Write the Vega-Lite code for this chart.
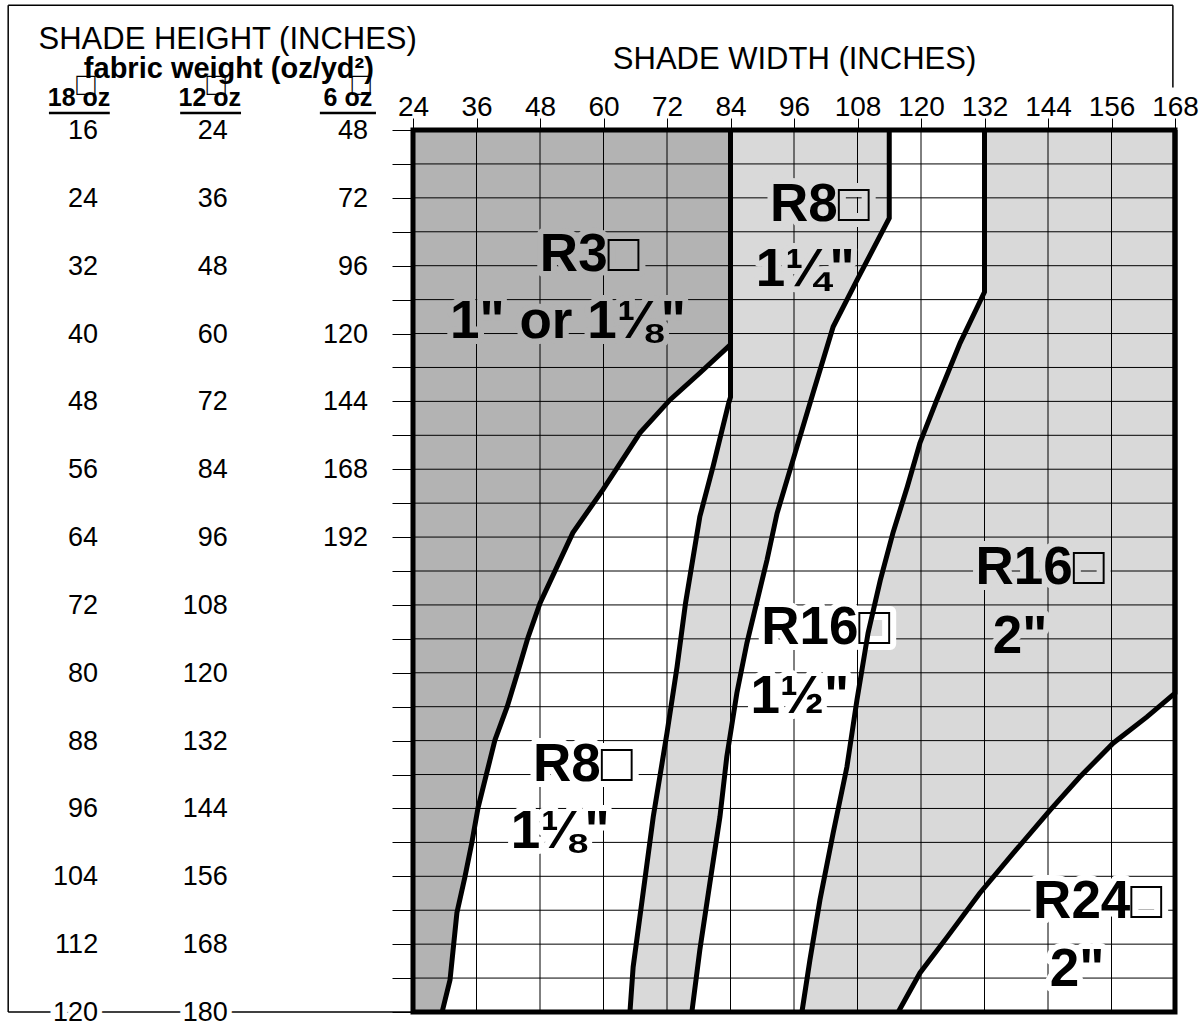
{
  "$schema": "https://vega.github.io/schema/vega-lite/v6.json",
  "width": 762,
  "height": 882,
  "autosize": {"type": "none"},
  "padding": {"left": 413, "top": 130, "right": 25, "bottom": 9},
  "background": "white",
  "config": {"view": {"stroke": null}, "font": "Liberation Sans"},
  "datasets": {
    "one": [{}],
    "edges": [
      {"edge": "A", "w": 84, "h": 16}, {"edge": "A", "w": 84, "h": 41.3}, {"edge": "A", "w": 78.2, "h": 44.65}, {"edge": "A", "w": 72.6, "h": 47.8}, {"edge": "A", "w": 66.9, "h": 51.7}, {"edge": "A", "w": 59.9, "h": 58.4}, {"edge": "A", "w": 54.2, "h": 63.5}, {"edge": "A", "w": 48.0, "h": 71.8}, {"edge": "A", "w": 45.7, "h": 75.9}, {"edge": "A", "w": 43.8, "h": 79.9}, {"edge": "A", "w": 41.8, "h": 84.0}, {"edge": "A", "w": 39.5, "h": 87.9}, {"edge": "A", "w": 36.3, "h": 95.9}, {"edge": "A", "w": 35.1, "h": 100.1}, {"edge": "A", "w": 33.8, "h": 104.1}, {"edge": "A", "w": 32.3, "h": 108.3}, {"edge": "A", "w": 31.0, "h": 116.2}, {"edge": "A", "w": 29.5, "h": 120},
      {"edge": "B", "w": 84, "h": 16}, {"edge": "B", "w": 84, "h": 47.5}, {"edge": "B", "w": 83.7, "h": 48.1}, {"edge": "B", "w": 80.7, "h": 55.7}, {"edge": "B", "w": 78.2, "h": 61.6}, {"edge": "B", "w": 75.5, "h": 71.8}, {"edge": "B", "w": 73.9, "h": 79.3}, {"edge": "B", "w": 72.0, "h": 87.1}, {"edge": "B", "w": 69.4, "h": 97.0}, {"edge": "B", "w": 67.3, "h": 106.8}, {"edge": "B", "w": 65.6, "h": 114.7}, {"edge": "B", "w": 65.0, "h": 120},
      {"edge": "C", "w": 114, "h": 16}, {"edge": "C", "w": 114, "h": 26.4}, {"edge": "C", "w": 107.9, "h": 33.7}, {"edge": "C", "w": 103.4, "h": 39.2}, {"edge": "C", "w": 99.6, "h": 47.0}, {"edge": "C", "w": 96.2, "h": 54.1}, {"edge": "C", "w": 92.8, "h": 61.2}, {"edge": "C", "w": 90.9, "h": 66.7}, {"edge": "C", "w": 87.1, "h": 76.5}, {"edge": "C", "w": 85.2, "h": 82.4}, {"edge": "C", "w": 83.3, "h": 89.9}, {"edge": "C", "w": 82.0, "h": 97.0}, {"edge": "C", "w": 80.1, "h": 104.8}, {"edge": "C", "w": 78.2, "h": 112.7}, {"edge": "C", "w": 76.7, "h": 120},
      {"edge": "D", "w": 132, "h": 16}, {"edge": "D", "w": 132, "h": 35.1}, {"edge": "D", "w": 127.4, "h": 41.1}, {"edge": "D", "w": 123.0, "h": 47.8}, {"edge": "D", "w": 119.8, "h": 52.9}, {"edge": "D", "w": 117.4, "h": 58.1}, {"edge": "D", "w": 114.7, "h": 63.5}, {"edge": "D", "w": 112.3, "h": 69.1}, {"edge": "D", "w": 110.0, "h": 75.3}, {"edge": "D", "w": 107.9, "h": 83.2}, {"edge": "D", "w": 106.0, "h": 91.1}, {"edge": "D", "w": 103.4, "h": 98.9}, {"edge": "D", "w": 100.9, "h": 106.8}, {"edge": "D", "w": 99.0, "h": 113.9}, {"edge": "D", "w": 97.5, "h": 120},
      {"edge": "E", "w": 168, "h": 16}, {"edge": "E", "w": 168, "h": 82.4}, {"edge": "E", "w": 162.7, "h": 85.2}, {"edge": "E", "w": 156.3, "h": 88.3}, {"edge": "E", "w": 150.0, "h": 92.3}, {"edge": "E", "w": 144.4, "h": 96.2}, {"edge": "E", "w": 137.4, "h": 101.3}, {"edge": "E", "w": 131.1, "h": 106.0}, {"edge": "E", "w": 124.9, "h": 111.2}, {"edge": "E", "w": 119.8, "h": 115.4}, {"edge": "E", "w": 115.7, "h": 120}
    ],
    "xgrid": [{"w": 36}, {"w": 48}, {"w": 60}, {"w": 72}, {"w": 84}, {"w": 96}, {"w": 108}, {"w": 120}, {"w": 132}, {"w": 144}, {"w": 156}],
    "ygrid": [{"h": 20}, {"h": 24}, {"h": 28}, {"h": 32}, {"h": 36}, {"h": 40}, {"h": 44}, {"h": 48}, {"h": 52}, {"h": 56}, {"h": 60}, {"h": 64}, {"h": 68}, {"h": 72}, {"h": 76}, {"h": 80}, {"h": 84}, {"h": 88}, {"h": 92}, {"h": 96}, {"h": 100}, {"h": 104}, {"h": 108}, {"h": 112}, {"h": 116}],
    "rows": [
      {"h": 16, "oz18": 16, "oz12": 24, "oz6": 48}, {"h": 24, "oz18": 24, "oz12": 36, "oz6": 72}, {"h": 32, "oz18": 32, "oz12": 48, "oz6": 96}, {"h": 40, "oz18": 40, "oz12": 60, "oz6": 120}, {"h": 48, "oz18": 48, "oz12": 72, "oz6": 144}, {"h": 56, "oz18": 56, "oz12": 84, "oz6": 168}, {"h": 64, "oz18": 64, "oz12": 96, "oz6": 192},
      {"h": 72, "oz18": 72, "oz12": 108}, {"h": 80, "oz18": 80, "oz12": 120}, {"h": 88, "oz18": 88, "oz12": 132}, {"h": 96, "oz18": 96, "oz12": 144}, {"h": 104, "oz18": 104, "oz12": 156}, {"h": 112, "oz18": 112, "oz12": 168}, {"h": 120, "oz18": 120, "oz12": 180}
    ],
    "tags": [
      {"zone": "R3 1in or 1.125in", "t": "R3□", "w": 57.4, "h": 30.7},
      {"zone": "R3 1in or 1.125in", "t": "1\" or 1⅛\"", "w": 53.3, "h": 38.6},
      {"zone": "R8 1.25in", "t": "R8□", "w": 100.9, "h": 24.8},
      {"zone": "R8 1.25in", "t": "1¼\"", "w": 98.1, "h": 32.5},
      {"zone": "R8 1.125in", "t": "R8□", "w": 56.1, "h": 90.9},
      {"zone": "R8 1.125in", "t": "1⅛\"", "w": 51.8, "h": 98.8},
      {"zone": "R16 1.5in", "t": "R16□", "w": 102.0, "h": 74.7},
      {"zone": "R16 1.5in", "t": "1½\"", "w": 97.1, "h": 82.9},
      {"zone": "R16 2in", "t": "R16□", "w": 142.5, "h": 67.6},
      {"zone": "R16 2in", "t": "2\"", "w": 138.7, "h": 75.8},
      {"zone": "R24 2in", "t": "R24□", "w": 153.4, "h": 107.0},
      {"zone": "R24 2in", "t": "2\"", "w": 149.5, "h": 115.0}
    ]
  },
  "layer": [
    {
      "data": {"name": "edges"},
      "transform": [{"filter": "datum.edge === 'A'"}],
      "mark": {"type": "area", "orient": "horizontal", "color": "#b3b3b3"},
      "encoding": {
        "y": {"field": "h", "type": "quantitative", "scale": {"domain": [16, 120], "reverse": true, "nice": false, "zero": false},
          "axis": {"values": [16, 20, 24, 28, 32, 36, 40, 44, 48, 52, 56, 60, 64, 68, 72, 76, 80, 84, 88, 92, 96, 100, 104, 108, 112, 116, 120], "tickCount": 40, "labels": false, "domain": false, "grid": false, "ticks": true, "tickSize": 21, "tickColor": "black", "tickWidth": 1,
            "title": "SHADE HEIGHT (INCHES)", "titleAngle": 0, "titleAlign": "left", "titleBaseline": "alphabetic", "titleX": -375, "titleY": -82, "titleFont": "Liberation Sans", "titleFontSize": 31, "titleFontWeight": "normal", "titleColor": "black"}},
        "x": {"field": "w", "type": "quantitative", "stack": null, "scale": {"domain": [24, 168], "nice": false, "zero": false},
          "axis": {"orient": "top", "values": [24, 36, 48, 60, 72, 84, 96, 108, 120, 132, 144, 156, 168], "tickCount": 20, "domain": false, "grid": false, "ticks": true, "tickSize": 12, "tickColor": "black", "tickWidth": 1, "labelPadding": 3, "labelBaseline": "alphabetic", "labelFlush": false, "labelOverlap": false, "labelFont": "Liberation Sans", "labelFontSize": 28, "labelColor": "black",
            "title": "SHADE WIDTH (INCHES)", "titleFont": "Liberation Sans", "titleFontSize": 31, "titleFontWeight": "normal", "titleColor": "black", "titleBaseline": "alphabetic", "titleY": -62}},
        "x2": {"datum": 24}
      }
    },
    {
      "data": {"name": "edges"},
      "transform": [{"filter": "datum.edge === 'B'"}],
      "mark": {"type": "area", "orient": "horizontal", "color": "#d9d9d9"},
      "encoding": {"y": {"field": "h", "type": "quantitative"}, "x": {"field": "w", "type": "quantitative", "stack": null}, "x2": {"datum": 168}}
    },
    {
      "data": {"name": "edges"},
      "transform": [{"filter": "datum.edge === 'C'"}],
      "mark": {"type": "area", "orient": "horizontal", "color": "#ffffff"},
      "encoding": {"y": {"field": "h", "type": "quantitative"}, "x": {"field": "w", "type": "quantitative", "stack": null}, "x2": {"datum": 168}}
    },
    {
      "data": {"name": "edges"},
      "transform": [{"filter": "datum.edge === 'D'"}],
      "mark": {"type": "area", "orient": "horizontal", "color": "#d9d9d9"},
      "encoding": {"y": {"field": "h", "type": "quantitative"}, "x": {"field": "w", "type": "quantitative", "stack": null}, "x2": {"datum": 168}}
    },
    {
      "data": {"name": "edges"},
      "transform": [{"filter": "datum.edge === 'E'"}],
      "mark": {"type": "area", "orient": "horizontal", "color": "#ffffff"},
      "encoding": {"y": {"field": "h", "type": "quantitative"}, "x": {"field": "w", "type": "quantitative", "stack": null}, "x2": {"datum": 168}}
    },
    {
      "data": {"name": "xgrid"},
      "mark": {"type": "rule", "color": "black", "strokeWidth": 1},
      "encoding": {"x": {"field": "w", "type": "quantitative"}}
    },
    {
      "data": {"name": "ygrid"},
      "mark": {"type": "rule", "color": "black", "strokeWidth": 1},
      "encoding": {"y": {"field": "h", "type": "quantitative"}}
    },
    {
      "data": {"name": "tags"},
      "mark": {"type": "text", "font": "Liberation Sans", "fontWeight": "bold", "fontSize": 53, "align": "center", "baseline": "middle", "strokeWidth": 12, "strokeJoin": "round"},
      "encoding": {
        "x": {"field": "w", "type": "quantitative"},
        "y": {"field": "h", "type": "quantitative"},
        "text": {"field": "t"},
        "stroke": {"field": "zone", "type": "nominal", "legend": null,
          "scale": {"domain": ["R3 1in or 1.125in", "R8 1.25in", "R8 1.125in", "R16 1.5in", "R16 2in", "R24 2in"], "range": ["#b3b3b3", "#d9d9d9", "#ffffff", "#ffffff", "#d9d9d9", "#ffffff"]}}
      }
    },
    {
      "data": {"name": "edges"},
      "mark": {"type": "line", "color": "black", "strokeWidth": 5},
      "encoding": {
        "x": {"field": "w", "type": "quantitative"},
        "y": {"field": "h", "type": "quantitative"},
        "detail": {"field": "edge"},
        "order": {"field": "h", "type": "quantitative"}
      }
    },
    {
      "data": {"name": "tags"},
      "mark": {"type": "text", "font": "Liberation Sans", "fontWeight": "bold", "fontSize": 53, "align": "center", "baseline": "middle", "color": "black"},
      "encoding": {
        "x": {"field": "w", "type": "quantitative"},
        "y": {"field": "h", "type": "quantitative"},
        "text": {"field": "t"}
      }
    },
    {
      "data": {"name": "one"},
      "mark": {"type": "rect", "filled": false, "stroke": "black", "strokeWidth": 5},
      "encoding": {"x": {"datum": 24}, "x2": {"datum": 168}, "y": {"datum": 16}, "y2": {"datum": 120}}
    },
    {
      "data": {"name": "one"},
      "mark": {"type": "rule", "color": "black", "strokeWidth": 1.5},
      "encoding": {"x": {"datum": -52.5}, "y": {"datum": 1.3}, "y2": {"datum": 120}}
    },
    {
      "data": {"name": "one"},
      "mark": {"type": "rule", "color": "black", "strokeWidth": 1.5},
      "encoding": {"x": {"datum": -52.5}, "x2": {"datum": 167.6}, "y": {"datum": 1.3}}
    },
    {
      "data": {"name": "one"},
      "mark": {"type": "rule", "color": "black", "strokeWidth": 1.5},
      "encoding": {"x": {"datum": 167.6}, "y": {"datum": 1.3}, "y2": {"datum": 11.0}}
    },
    {
      "data": {"name": "one"},
      "mark": {"type": "rule", "color": "black", "strokeWidth": 1.5},
      "encoding": {"x": {"datum": -52.5}, "x2": {"datum": 24}, "y": {"datum": 120}}
    },
    {
      "data": {"name": "rows"},
      "mark": {"type": "text", "fontSize": 27, "align": "right", "baseline": "middle", "dy": 1, "stroke": "white", "strokeWidth": 10},
      "encoding": {"x": {"datum": -35.5}, "y": {"field": "h", "type": "quantitative"}, "text": {"field": "oz18"}}
    },
    {
      "data": {"name": "rows"},
      "mark": {"type": "text", "fontSize": 27, "align": "right", "baseline": "middle", "dy": 1, "stroke": "white", "strokeWidth": 10},
      "encoding": {"x": {"datum": -11}, "y": {"field": "h", "type": "quantitative"}, "text": {"field": "oz12"}}
    },
    {
      "data": {"name": "rows"},
      "mark": {"type": "text", "fontSize": 27, "align": "right", "baseline": "middle", "dy": 1, "color": "black"},
      "encoding": {"x": {"datum": -35.5}, "y": {"field": "h", "type": "quantitative"}, "text": {"field": "oz18"}}
    },
    {
      "data": {"name": "rows"},
      "mark": {"type": "text", "fontSize": 27, "align": "right", "baseline": "middle", "dy": 1, "color": "black"},
      "encoding": {"x": {"datum": -11}, "y": {"field": "h", "type": "quantitative"}, "text": {"field": "oz12"}}
    },
    {
      "data": {"name": "rows"},
      "transform": [{"filter": "isValid(datum.oz6)"}],
      "mark": {"type": "text", "fontSize": 27, "align": "right", "baseline": "middle", "dy": 1, "color": "black"},
      "encoding": {"x": {"datum": 15.5}, "y": {"field": "h", "type": "quantitative"}, "text": {"field": "oz6"}}
    },
    {
      "data": {"name": "one"},
      "mark": {"type": "text", "text": "fabric weight (oz/yd²)", "fontSize": 29, "fontWeight": "bold", "align": "center", "baseline": "alphabetic", "color": "black"},
      "encoding": {"x": {"datum": -10.8}, "y": {"datum": 9.9}}
    },
    {
      "data": {"name": "one"},
      "mark": {"type": "text", "text": "18 oz", "fontSize": 25, "fontWeight": "bold", "align": "center", "baseline": "alphabetic", "color": "black"},
      "encoding": {"x": {"datum": -39.1}, "y": {"datum": 13.2}}
    },
    {
      "data": {"name": "one"},
      "mark": {"type": "text", "text": "12 oz", "fontSize": 25, "fontWeight": "bold", "align": "center", "baseline": "alphabetic", "color": "black"},
      "encoding": {"x": {"datum": -14.4}, "y": {"datum": 13.2}}
    },
    {
      "data": {"name": "one"},
      "mark": {"type": "text", "text": "6 oz", "fontSize": 25, "fontWeight": "bold", "align": "center", "baseline": "alphabetic", "color": "black"},
      "encoding": {"x": {"datum": 11.7}, "y": {"datum": 13.2}}
    },
    {
      "data": {"name": "one"},
      "mark": {"type": "text", "text": "□", "fontSize": 32, "align": "center", "baseline": "middle", "color": "black"},
      "encoding": {"x": {"datum": -37.8}, "y": {"datum": 10.7}}
    },
    {
      "data": {"name": "one"},
      "mark": {"type": "text", "text": "□", "fontSize": 32, "align": "center", "baseline": "middle", "color": "black"},
      "encoding": {"x": {"datum": -13.2}, "y": {"datum": 10.7}}
    },
    {
      "data": {"name": "one"},
      "mark": {"type": "text", "text": "□", "fontSize": 32, "align": "center", "baseline": "middle", "color": "black"},
      "encoding": {"x": {"datum": 14.2}, "y": {"datum": 10.7}}
    },
    {
      "data": {"name": "one"},
      "mark": {"type": "rule", "color": "black", "strokeWidth": 2.5},
      "encoding": {"x": {"datum": -44.8}, "x2": {"datum": -33.3}, "y": {"datum": 14.0}}
    },
    {
      "data": {"name": "one"},
      "mark": {"type": "rule", "color": "black", "strokeWidth": 2.5},
      "encoding": {"x": {"datum": -20.0}, "x2": {"datum": -8.5}, "y": {"datum": 14.0}}
    },
    {
      "data": {"name": "one"},
      "mark": {"type": "rule", "color": "black", "strokeWidth": 2.5},
      "encoding": {"x": {"datum": 6.4}, "x2": {"datum": 17.0}, "y": {"datum": 14.0}}
    }
  ]
}
